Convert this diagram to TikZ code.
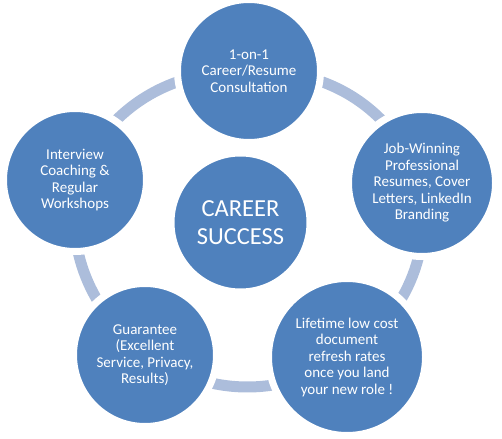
\documentclass[tikz,border=0pt]{standalone}
\usepackage{fontspec}
\setmainfont{Carlito}
\usetikzlibrary{backgrounds}
\definecolor{nodeblue}{RGB}{79,129,189}
\definecolor{ringblue}{RGB}{172,189,219}
\begin{document}
\begin{tikzpicture}[x=1pt,y=-1pt,
  bubble/.style={circle, fill=nodeblue, draw=white, line width=7pt, inner sep=0pt,
    text=white, align=center, font=\fontsize{15}{16.5}\selectfont},
  ringarc/.style={draw=ringblue, line width=11pt}]
\useasboundingbox (0,0) rectangle (502,438);
\node[bubble, minimum size=143pt] (top) at (249,71) {1-on-1\\Career/Resume\\Consultation};
\node[bubble, minimum size=147pt] (right) at (422,183) {Job-Winning\\Professional\\Resumes, Cover\\Letters, LinkedIn\\Branding};
\node[bubble, minimum size=157pt] (bright) at (347,357) {Lifetime low cost\\document\\refresh rates\\once you land\\your new role !};
\node[bubble, minimum size=143pt] (bleft) at (145,355) {Guarantee\\(Excellent\\Service, Privacy,\\Results)};
\node[bubble, minimum size=143pt] (left) at (75,180) {Interview\\Coaching \&\\Regular\\Workshops};
\node[bubble, minimum size=139pt, font=\fontsize{24.5}{28.5}\selectfont] (center) at (240.5,222.5) {CAREER\\SUCCESS};
\begin{pgfonlayer}{background}
\path[ringarc] (top.center) to[bend left=35] (right.center);
\path[ringarc] (right.center) to[bend left=30.5] (bright.center);
\path[ringarc] (bright.center) to[bend left=31.5] (bleft.center);
\path[ringarc] (bleft.center) to[bend left=28] (left.center);
\path[ringarc] (left.center) to[bend left=33] (top.center);
\end{pgfonlayer}
\end{tikzpicture}
\end{document}
